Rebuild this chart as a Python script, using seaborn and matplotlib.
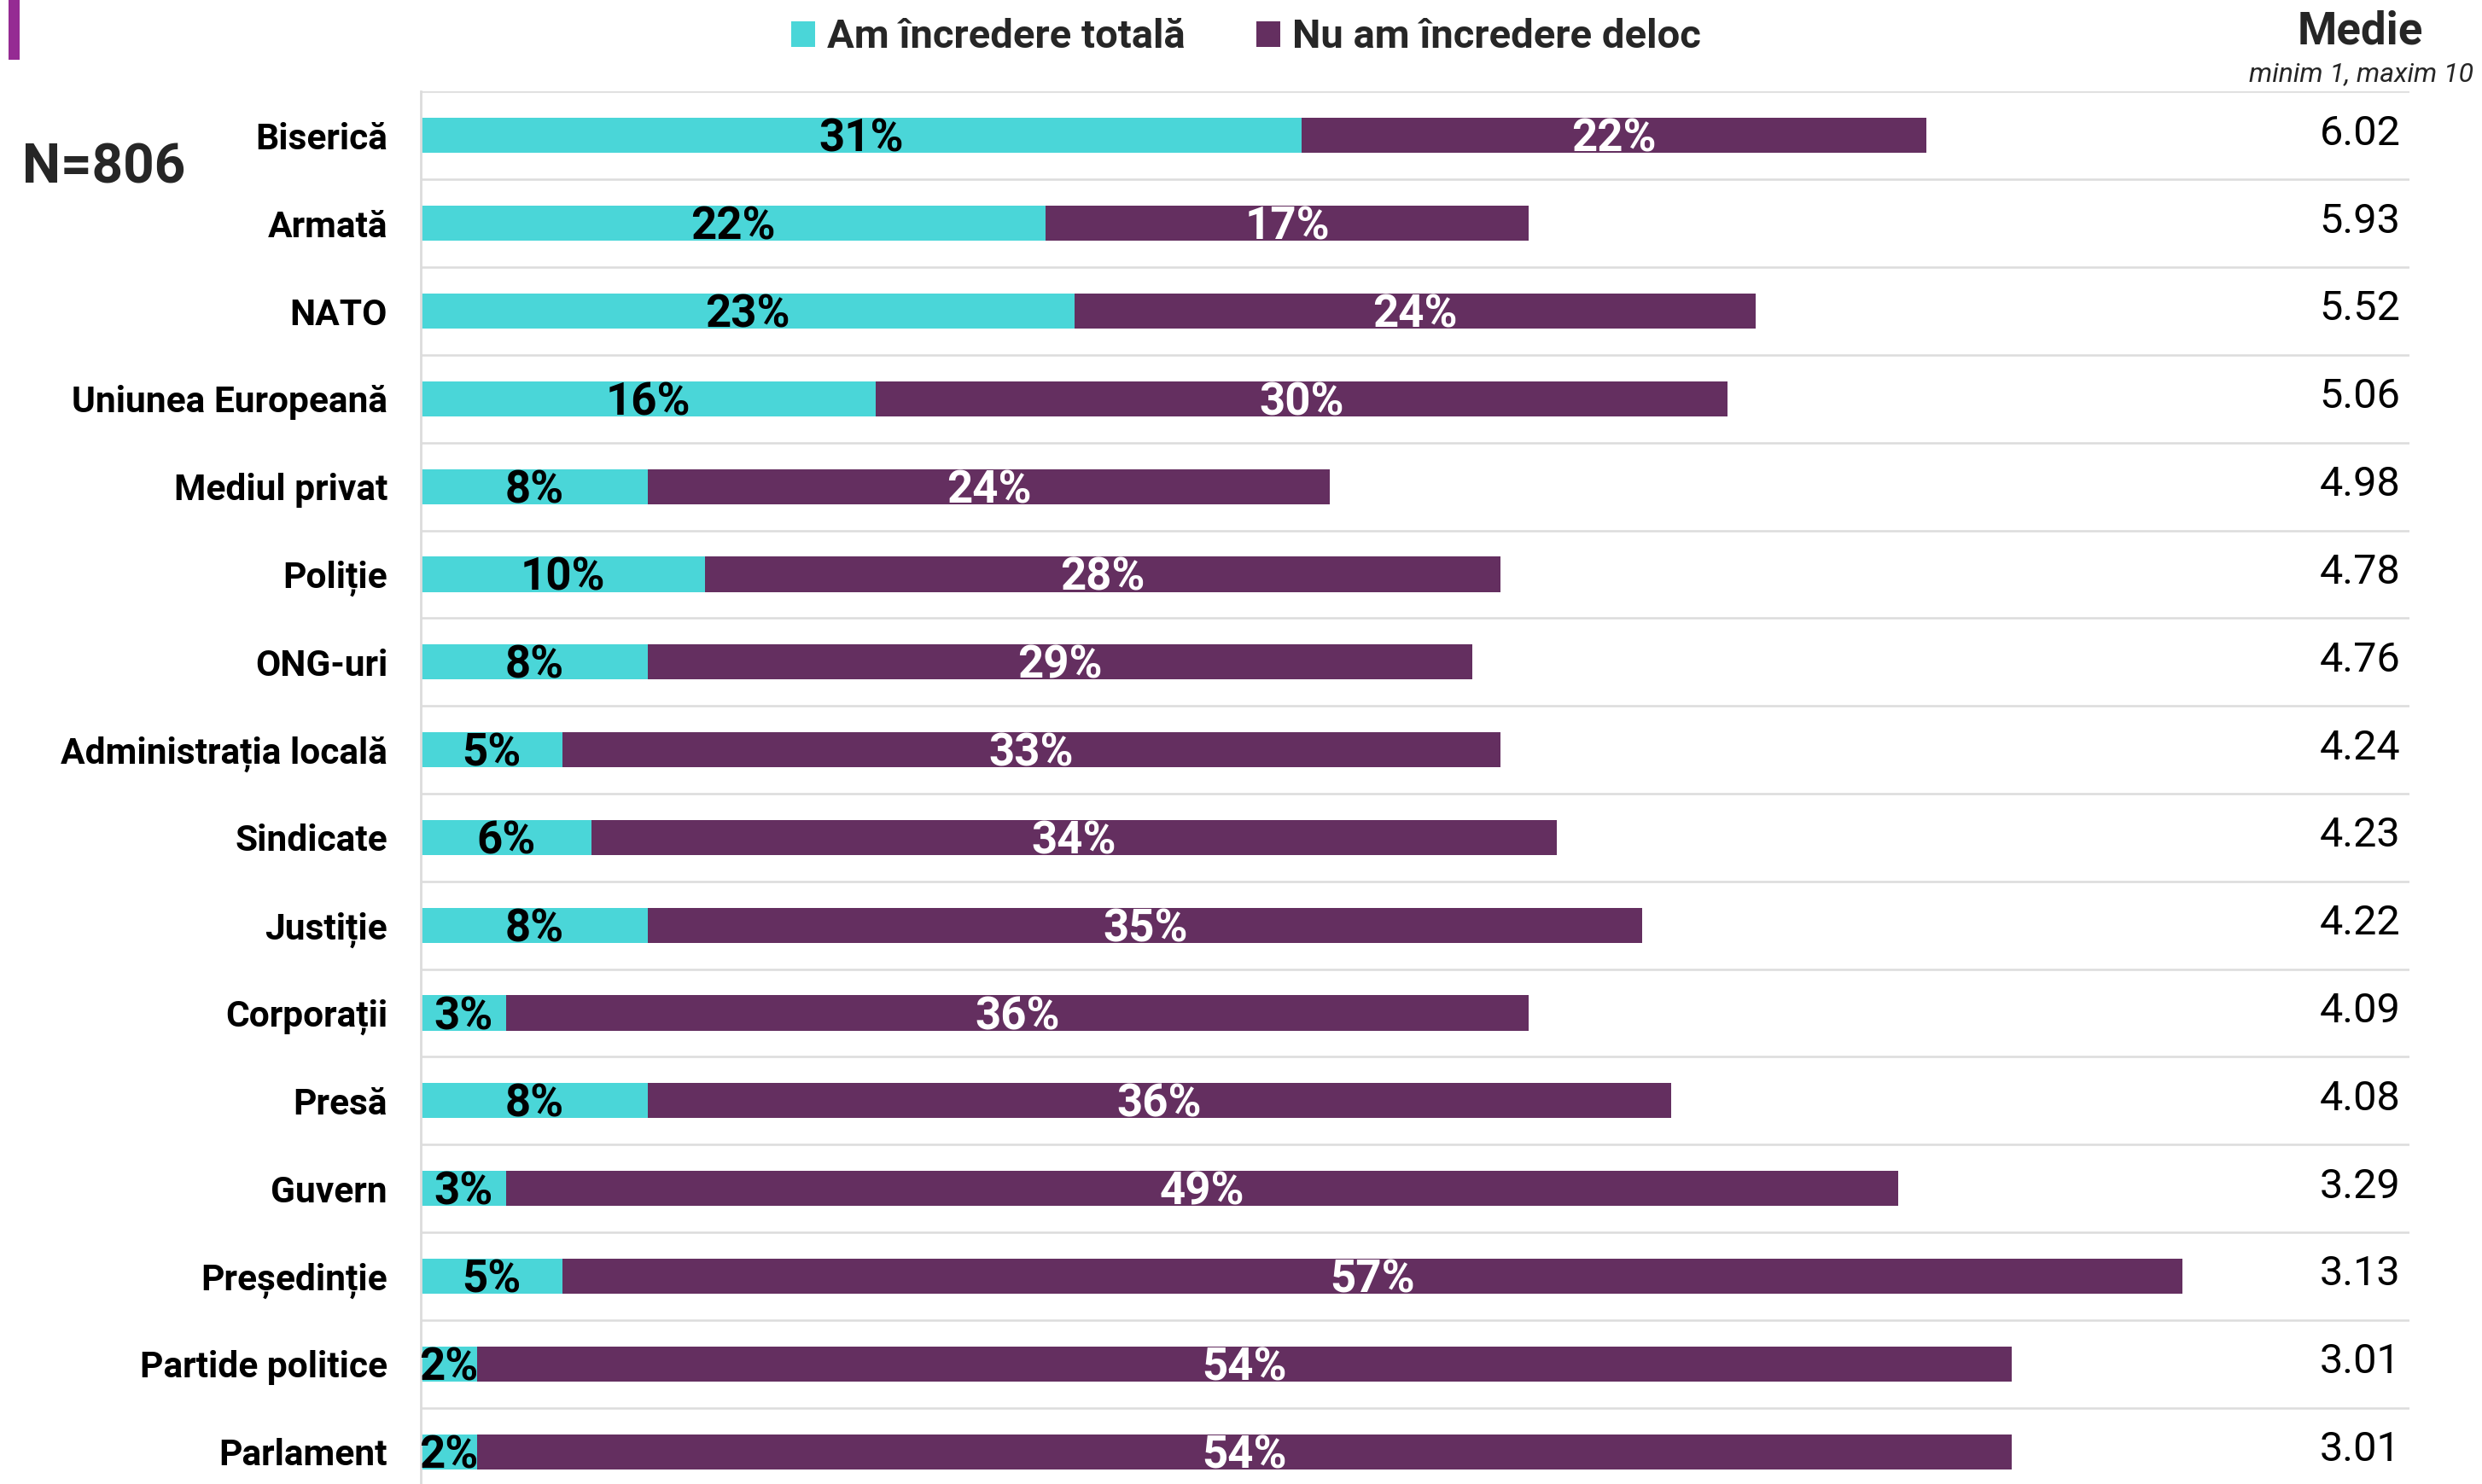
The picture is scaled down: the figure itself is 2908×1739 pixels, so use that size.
import matplotlib
matplotlib.use("Agg")
import matplotlib.pyplot as plt
from matplotlib.patches import Patch, Rectangle
import seaborn as sns
import pandas as pd

categories = ["Biserică", "Armată", "NATO", "Uniunea Europeană", "Mediul privat",
              "Poliție", "ONG-uri", "Administrația locală", "Sindicate", "Justiție",
              "Corporații", "Presă", "Guvern", "Președinție", "Partide politice", "Parlament"]
incredere_totala = [31, 22, 23, 16, 8, 10, 8, 5, 6, 8, 3, 8, 3, 5, 2, 2]
incredere_deloc = [22, 17, 24, 30, 24, 28, 29, 33, 34, 35, 36, 36, 49, 57, 54, 54]
medie = [6.02, 5.93, 5.52, 5.06, 4.98, 4.78, 4.76, 4.24, 4.23, 4.22, 4.09, 4.08,
         3.29, 3.13, 3.01, 3.01]
legend_labels = ["Am încredere totală", "Nu am încredere deloc"]

CYAN = "#4ad6d8"
PLUM = "#642f60"
GRID = "#dcdcdc"

sns.set_theme(style="white")
plt.rcParams["font.family"] = ["Roboto", "DejaVu Sans"]

df = pd.DataFrame({
    "cat": categories,
    "tot": incredere_totala,
    "del": incredere_deloc,
})
df["cum"] = df["tot"] + df["del"]

fig = plt.figure(figsize=(14.54, 8.695), dpi=200)
ax = fig.add_axes([0.1695, -0.0078, 0.9708 - 0.1695, 0.946])

sns.barplot(data=df, x="cum", y="cat", color=PLUM, saturation=1, width=0.4,
            orient="h", ax=ax, linewidth=0)
sns.barplot(data=df, x="tot", y="cat", color=CYAN, saturation=1, width=0.4,
            orient="h", ax=ax, linewidth=0)

n = len(categories)
ax.set_xlim(0, 70)
ax.set_ylim(n - 0.5, -0.5)
ax.set_xlabel("")
ax.set_ylabel("")
ax.set_xticks([])

# row separators
for k in range(n + 1):
    ax.axhline(k - 0.5, color=GRID, lw=0.9, zorder=0.5)

for s in ["top", "right", "bottom"]:
    ax.spines[s].set_visible(False)
ax.spines["left"].set_color(GRID)
ax.spines["left"].set_linewidth(1.0)

ax.tick_params(axis="y", length=0, pad=14)
for lab in ax.get_yticklabels():
    lab.set_fontweight("bold")
    lab.set_fontsize(15.3)
    lab.set_color("black")

for i, (t, d, m) in enumerate(zip(incredere_totala, incredere_deloc, medie)):
    ax.text(t / 2, i + 0.185, f"{t}%", ha="center", va="baseline",
            fontsize=19, fontweight="bold", color="black")
    ax.text(t + d / 2, i + 0.185, f"{d}%", ha="center", va="baseline",
            fontsize=19, fontweight="bold", color="white")
    ax.text(68.25, i - 0.02, f"{m:.2f}", ha="center", va="center", fontsize=17.5,
            color="black")

# header for Medie column
fig.text(0.951, 0.979, "Medie", ha="center", va="center", fontsize=19,
         fontweight="bold")
fig.text(0.9966, 0.950, "minim 1, maxim 10", ha="right", va="center",
         fontsize=11.5, style="italic")

# N
fig.text(0.009, 0.887, "N=806", ha="left", va="center", fontsize=23,
         fontweight="bold")

# decorative accent mark
fig.add_artist(Rectangle((0.0034, 0.96), 0.0045, 0.045, transform=fig.transFigure,
                         color="#952b93", lw=0))

handles = [Patch(facecolor=CYAN, edgecolor="none"),
           Patch(facecolor=PLUM, edgecolor="none")]
leg = fig.legend(handles, legend_labels, loc="center", bbox_to_anchor=(0.502, 0.975),
                 ncol=2, frameon=False, handlelength=0.6,
                 handleheight=0.6, handletextpad=0.3, columnspacing=1.75,
                 borderpad=0, prop={"weight": "bold", "size": 17})

fig.savefig("out.png", dpi=200)
